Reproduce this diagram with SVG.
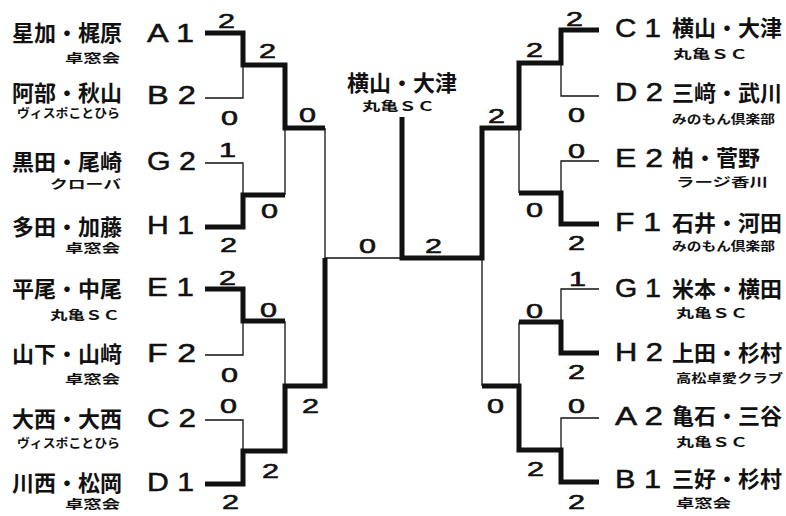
<svg xmlns="http://www.w3.org/2000/svg" width="786" height="516" viewBox="0 0 786 516">
<style>
.thin{fill:none;stroke:#111;stroke-width:1.3}
.thick{fill:none;stroke:#111;stroke-width:5;stroke-linejoin:miter}
.nm{font-family:"Noto Sans CJK JP","Noto Sans",sans-serif;font-weight:bold;font-size:22px;fill:#111}
.cl{font-family:"Noto Sans CJK JP","Noto Sans",sans-serif;font-weight:bold;font-size:12.5px;fill:#111}
.lt{font-family:"Liberation Sans",Arial,sans-serif;font-size:26px;fill:#111;stroke:#111;stroke-width:0.5}
.sc{font-family:"Liberation Sans",Arial,sans-serif;font-size:21px;fill:#111;stroke:#111;stroke-width:0.6}
.l{text-anchor:end}
</style>
<rect width="786" height="516" fill="#fff"/>
<g id="connectors">
<path class="thin" d="M205,98 H243 V65 M205,163 H243 V195 M285,128 V195 M325,128 V258 H402 M205,355 H243 V321 M205,420 H243 V451 M285,321 V386"/>
<path class="thin" d="M599,96 H561 V63 M599,161 H561 V193 M519,128 V193 M482,258 V386 M599,289 H561 V322 M519,322 V386 M599,418 H561 V450"/>
<path class="thick" d="M205,33 H243 V65 H285 V128 H325 M205,227 H243 V195 H285 M205,289 H243 V321 H285 M205,484 H243 V451 H285 V386 H325 V258"/>
<path class="thick" d="M402,117 V258 H482 V128 H519 V63 H561 V30 H599 M599,224 H561 V193 H519 M519,322 H561 V353 H599 M482,386 H519 V450 H561 V482 H599"/>
</g>
<g id="scores" class="sc">
<text x="218" y="28" textLength="17" lengthAdjust="spacingAndGlyphs">2</text>
<text x="259" y="58" textLength="17" lengthAdjust="spacingAndGlyphs">2</text>
<text x="221" y="125" textLength="17" lengthAdjust="spacingAndGlyphs">0</text>
<text x="299" y="122" textLength="17" lengthAdjust="spacingAndGlyphs">0</text>
<text x="219" y="157" textLength="17" lengthAdjust="spacingAndGlyphs">1</text>
<text x="261" y="218" textLength="17" lengthAdjust="spacingAndGlyphs">0</text>
<text x="220" y="252" textLength="17" lengthAdjust="spacingAndGlyphs">2</text>
<text x="219" y="285" textLength="17" lengthAdjust="spacingAndGlyphs">2</text>
<text x="260" y="317" textLength="17" lengthAdjust="spacingAndGlyphs">0</text>
<text x="221" y="382" textLength="17" lengthAdjust="spacingAndGlyphs">0</text>
<text x="302" y="413" textLength="17" lengthAdjust="spacingAndGlyphs">2</text>
<text x="220" y="413" textLength="17" lengthAdjust="spacingAndGlyphs">0</text>
<text x="262" y="478" textLength="17" lengthAdjust="spacingAndGlyphs">2</text>
<text x="222" y="509" textLength="17" lengthAdjust="spacingAndGlyphs">2</text>
<text x="359" y="253" textLength="17" lengthAdjust="spacingAndGlyphs">0</text>
<text x="425" y="253" textLength="17" lengthAdjust="spacingAndGlyphs">2</text>
<text x="566" y="26" textLength="17" lengthAdjust="spacingAndGlyphs">2</text>
<text x="526" y="57" textLength="17" lengthAdjust="spacingAndGlyphs">2</text>
<text x="488" y="123" textLength="17" lengthAdjust="spacingAndGlyphs">2</text>
<text x="568" y="122" textLength="17" lengthAdjust="spacingAndGlyphs">0</text>
<text x="568" y="158" textLength="17" lengthAdjust="spacingAndGlyphs">0</text>
<text x="526" y="217" textLength="17" lengthAdjust="spacingAndGlyphs">0</text>
<text x="568" y="250" textLength="17" lengthAdjust="spacingAndGlyphs">2</text>
<text x="569" y="286" textLength="17" lengthAdjust="spacingAndGlyphs">1</text>
<text x="526" y="318" textLength="17" lengthAdjust="spacingAndGlyphs">0</text>
<text x="568" y="379" textLength="17" lengthAdjust="spacingAndGlyphs">2</text>
<text x="487" y="413" textLength="17" lengthAdjust="spacingAndGlyphs">0</text>
<text x="568" y="413" textLength="17" lengthAdjust="spacingAndGlyphs">0</text>
<text x="527" y="476" textLength="17" lengthAdjust="spacingAndGlyphs">2</text>
<text x="568" y="509" textLength="17" lengthAdjust="spacingAndGlyphs">2</text>
</g>
<g id="champion">
<text class="nm" x="402" y="91" text-anchor="middle">横山・大津</text>
<text class="cl" x="362" y="111" textLength="73" lengthAdjust="spacingAndGlyphs">丸亀ＳＣ</text>
</g>
<g id="L-A"><text class="nm l" x="122" y="41">星加・梶原</text><text class="cl" x="65" y="63" textLength="55" lengthAdjust="spacingAndGlyphs">卓窓会</text><text class="lt" x="147" y="42" textLength="47" lengthAdjust="spacingAndGlyphs">A 1</text></g>
<g id="L-B"><text class="nm l" x="122" y="101">阿部・秋山</text><text class="cl" x="17" y="118" textLength="103" lengthAdjust="spacingAndGlyphs">ヴィスポことひら</text><text class="lt" x="147" y="104" textLength="49" lengthAdjust="spacingAndGlyphs">B 2</text></g>
<g id="L-G"><text class="nm l" x="122" y="170">黒田・尾崎</text><text class="cl" x="50" y="189" textLength="71" lengthAdjust="spacingAndGlyphs">クローバ</text><text class="lt" x="147" y="170" textLength="49" lengthAdjust="spacingAndGlyphs">G 2</text></g>
<g id="L-H"><text class="nm l" x="122" y="235">多田・加藤</text><text class="cl" x="65" y="253" textLength="55" lengthAdjust="spacingAndGlyphs">卓窓会</text><text class="lt" x="147" y="234" textLength="47" lengthAdjust="spacingAndGlyphs">H 1</text></g>
<g id="L-E"><text class="nm l" x="122" y="297">平尾・中尾</text><text class="cl" x="50" y="320" textLength="70" lengthAdjust="spacingAndGlyphs">丸亀ＳＣ</text><text class="lt" x="147" y="296" textLength="47" lengthAdjust="spacingAndGlyphs">E 1</text></g>
<g id="L-F"><text class="nm l" x="122" y="362">山下・山﨑</text><text class="cl" x="65" y="384" textLength="55" lengthAdjust="spacingAndGlyphs">卓窓会</text><text class="lt" x="147" y="362" textLength="49" lengthAdjust="spacingAndGlyphs">F 2</text></g>
<g id="L-C"><text class="nm l" x="122" y="427">大西・大西</text><text class="cl" x="17" y="448" textLength="103" lengthAdjust="spacingAndGlyphs">ヴィスポことひら</text><text class="lt" x="147" y="427" textLength="49" lengthAdjust="spacingAndGlyphs">C 2</text></g>
<g id="L-D"><text class="nm l" x="122" y="491">川西・松岡</text><text class="cl" x="65" y="509" textLength="55" lengthAdjust="spacingAndGlyphs">卓窓会</text><text class="lt" x="147" y="491" textLength="47" lengthAdjust="spacingAndGlyphs">D 1</text></g>
<g id="R-C"><text class="lt" x="615" y="37" textLength="46" lengthAdjust="spacingAndGlyphs">C 1</text><text class="nm" x="672" y="36">横山・大津</text><text class="cl" x="673" y="59" textLength="75" lengthAdjust="spacingAndGlyphs">丸亀ＳＣ</text></g>
<g id="R-D"><text class="lt" x="615" y="101" textLength="48" lengthAdjust="spacingAndGlyphs">D 2</text><text class="nm" x="672" y="101">三﨑・武川</text><text class="cl" x="672" y="124" textLength="103" lengthAdjust="spacingAndGlyphs">みのもん倶楽部</text></g>
<g id="R-E"><text class="lt" x="615" y="167" textLength="48" lengthAdjust="spacingAndGlyphs">E 2</text><text class="nm" x="672" y="166">柏・菅野</text><text class="cl" x="676" y="187" textLength="92" lengthAdjust="spacingAndGlyphs">ラージ香川</text></g>
<g id="R-F"><text class="lt" x="615" y="231" textLength="46" lengthAdjust="spacingAndGlyphs">F 1</text><text class="nm" x="672" y="231">石井・河田</text><text class="cl" x="672" y="251" textLength="103" lengthAdjust="spacingAndGlyphs">みのもん倶楽部</text></g>
<g id="R-G"><text class="lt" x="615" y="297" textLength="46" lengthAdjust="spacingAndGlyphs">G 1</text><text class="nm" x="672" y="297">米本・横田</text><text class="cl" x="676" y="318" textLength="72" lengthAdjust="spacingAndGlyphs">丸亀ＳＣ</text></g>
<g id="R-H"><text class="lt" x="615" y="361" textLength="48" lengthAdjust="spacingAndGlyphs">H 2</text><text class="nm" x="672" y="361">上田・杉村</text><text class="cl" x="676" y="383" textLength="107" lengthAdjust="spacingAndGlyphs">高松卓愛クラブ</text></g>
<g id="R-A"><text class="lt" x="615" y="425" textLength="48" lengthAdjust="spacingAndGlyphs">A 2</text><text class="nm" x="672" y="424">亀石・三谷</text><text class="cl" x="676" y="447" textLength="72" lengthAdjust="spacingAndGlyphs">丸亀ＳＣ</text></g>
<g id="R-B"><text class="lt" x="615" y="488" textLength="46" lengthAdjust="spacingAndGlyphs">B 1</text><text class="nm" x="672" y="487">三好・杉村</text><text class="cl" x="676" y="508" textLength="55" lengthAdjust="spacingAndGlyphs">卓窓会</text></g>
</svg>
